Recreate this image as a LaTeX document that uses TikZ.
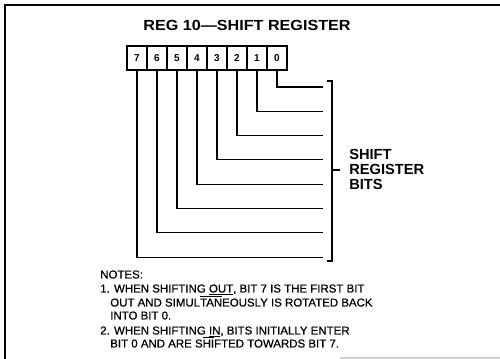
\documentclass[tikz,border=0pt]{standalone}
\usepackage{fontspec}
\setmainfont{Liberation Sans}
\newfontfamily\notefont{Liberation Sans}[FakeBold=0.7]
\newcommand{\ovl}[1]{$\overline{\hbox{#1}}$}
\tikzset{
  x=0.75pt, y=-0.75pt,
  cell/.style={draw, line width=1.4pt, minimum width=15pt, minimum height=18pt, inner sep=0pt, font=\bfseries\fontsize{7.5}{8}\selectfont},
  wire/.style={line width=0.8pt},
  frameline/.style={line width=1.6pt},
  notetext/.style={anchor=base west, inner sep=0pt, font=\notefont\fontsize{8.6}{10}\selectfont},
  bigbold/.style={font=\bfseries\fontsize{11}{11.3}\selectfont}
}
\begin{document}
\begin{tikzpicture}
\useasboundingbox (0,0) rectangle (500,359);
% frame
\coordinate (fTL) at (5,5);
\coordinate (fTR) at (500,5);
\coordinate (fBL) at (5,359);
\draw[frameline] (fBL) -- (fTL) -- (fTR);
\coordinate (gL) at (340,358);
\coordinate (gR) at (500,358);
\draw[gray!35, line width=0.8pt] (gL) -- (gR);
% title
\node[bigbold, inner sep=0pt] (title) at (247,25.5) {\scalebox{1.1}[1]{REG 10—SHIFT REGISTER}};
% cells
\foreach \b in {0,...,7} {
  \node[cell] (c\b) at ({277-20*\b},58) {\b};
}
% connector ends
\foreach \b in {0,...,7} {
  \coordinate (e\b) at (323,{87+24.3*\b});
  \draw[wire] (c\b.south) |- (e\b);
}
% bracket
\coordinate (bt0) at (327,81);
\coordinate (bt1) at (332,81);
\coordinate (bb1) at (332,261);
\coordinate (bb0) at (327,261);
\draw[wire] (bt0) -- (bt1) -- (bb1) -- (bb0);
\coordinate (tk0) at (332,170);
\coordinate (tk1) at (340,170);
\draw[wire] (tk0) -- (tk1);
\node[bigbold, anchor=west, align=left, inner sep=0pt] (bits) at (349,169.5) {SHIFT\\REGISTER\\BITS};
% notes
\node[notetext] (n0) at (100,278.5) {NOTES:};
\node[notetext] (n1) at (100,292.5) {1. WHEN SHIFTING \underline{OUT}, BIT 7 IS THE FIRST BIT};
\node[notetext] (n2) at (110,306.5) {OUT AND SIMUL\ovl{TAN}EOUSLY IS ROTATED BACK};
\node[notetext] (n3) at (110,319.5) {INTO BIT 0.};
\node[notetext] (n4) at (100,334.5) {2. WHEN SHIFTING \underline{IN}, BITS INITIALLY ENTER};
\node[notetext] (n5) at (110,347.5) {BIT 0 AND ARE S\ovl{HI}FTED TOWARDS BIT 7.};
\end{tikzpicture}
\end{document}
